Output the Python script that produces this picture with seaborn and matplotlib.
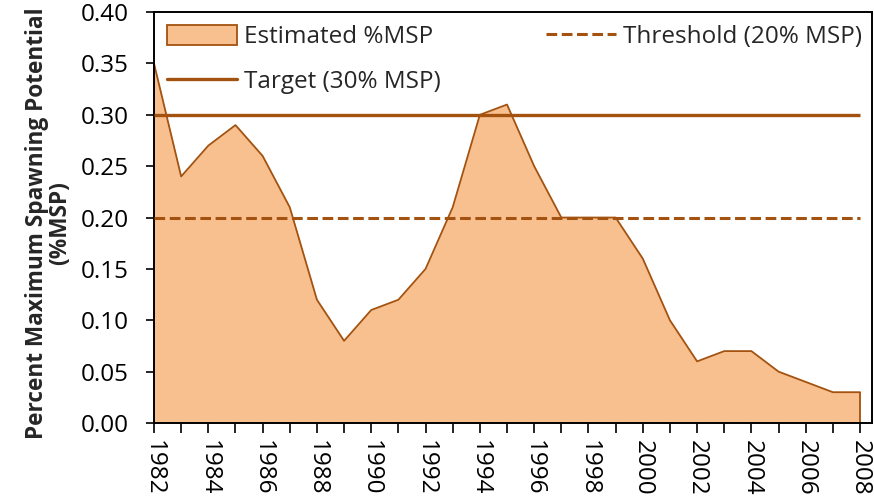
import matplotlib
matplotlib.use("Agg")
import matplotlib.pyplot as plt
import seaborn as sns
import pandas as pd
from matplotlib.patches import Patch
from matplotlib.lines import Line2D
from matplotlib.ticker import MultipleLocator, FormatStrFormatter

years = list(range(1982, 2009))
msp = [0.35, 0.24, 0.27, 0.29, 0.26, 0.21, 0.12, 0.08, 0.11, 0.12, 0.15, 0.21,
       0.30, 0.31, 0.25, 0.20, 0.20, 0.20, 0.16, 0.10, 0.06, 0.07, 0.07, 0.05,
       0.04, 0.03, 0.03]
threshold = 0.20
target = 0.30
tick_years = years[::2]

fill_color = "#F9C08F"
line_color = "#A3520F"
fs = 17.5

sns.set_theme(style="ticks")
plt.rcParams["font.family"] = ["Open Sans", "DejaVu Sans"]

df = pd.DataFrame({"year": years, "msp": msp})

fig = plt.figure(figsize=(8.74, 5.03), dpi=100)
ax = fig.add_axes([0.1762, 0.159, 0.8215, 0.817])

ax.fill_between(df["year"], 0, df["msp"], color=fill_color, linewidth=0, zorder=1)
sns.lineplot(data=df, x="year", y="msp", color=line_color, linewidth=1.3, ax=ax, zorder=2)
ax.vlines([years[0], years[-1]], 0, [msp[0], msp[-1]], color=line_color, linewidth=1.3, zorder=2)

ax.hlines(target, years[0], years[-1], color=line_color, linewidth=2.4, zorder=3)
ax.hlines(threshold, years[0], years[-1], color=line_color, linewidth=2.2,
          linestyles=(0, (3.5, 1.5)), zorder=3)

ax.set_xlim(years[0], years[-1] + 0.44)
ax.set_ylim(0, 0.40)
ax.yaxis.set_major_locator(MultipleLocator(0.05))
ax.yaxis.set_major_formatter(FormatStrFormatter("%.2f"))
ax.set_xticks(tick_years)
ax.set_xticks(years, minor=True)
ax.set_xticklabels([str(y) for y in tick_years], rotation=270, fontsize=fs)
ax.tick_params(axis="y", labelsize=fs, length=6, width=1.2, direction="out",
               colors="black", pad=12)
ax.tick_params(axis="x", which="both", length=7, width=1.2, direction="out",
               colors="black", pad=5)
for tl in ax.get_xticklabels():
    tl.set_va("top")
    tl.set_ha("center")

for side in ["left", "bottom", "right", "top"]:
    ax.spines[side].set_visible(True)
    ax.spines[side].set_color("black")
    ax.spines[side].set_linewidth(1.4)

ax.set_xlabel("")
ax.set_ylabel("Percent Maximum Spawning Potential\n(%MSP)", fontsize=16.3,
              fontweight="bold", linespacing=0.95)
ax.yaxis.set_label_coords(-0.114, 0.487)

handles = [
    Patch(facecolor=fill_color, edgecolor=line_color, linewidth=1.3, label="Estimated %MSP"),
    Line2D([], [], color=line_color, linewidth=2.4, label="Target (30% MSP)"),
    Line2D([], [], color=line_color, linewidth=2.2, linestyle=(0, (3.5, 1.5)),
           label="Threshold (20% MSP)"),
]
ax.legend(handles=handles, ncol=2, loc="upper left", bbox_to_anchor=(0.0, 1.0),
          frameon=False, fontsize=fs, handlelength=2.9, handleheight=0.9,
          labelspacing=0.85, columnspacing=4.3, handletextpad=0.3,
          borderaxespad=0.12)

fig.savefig("out.png", dpi=100)
